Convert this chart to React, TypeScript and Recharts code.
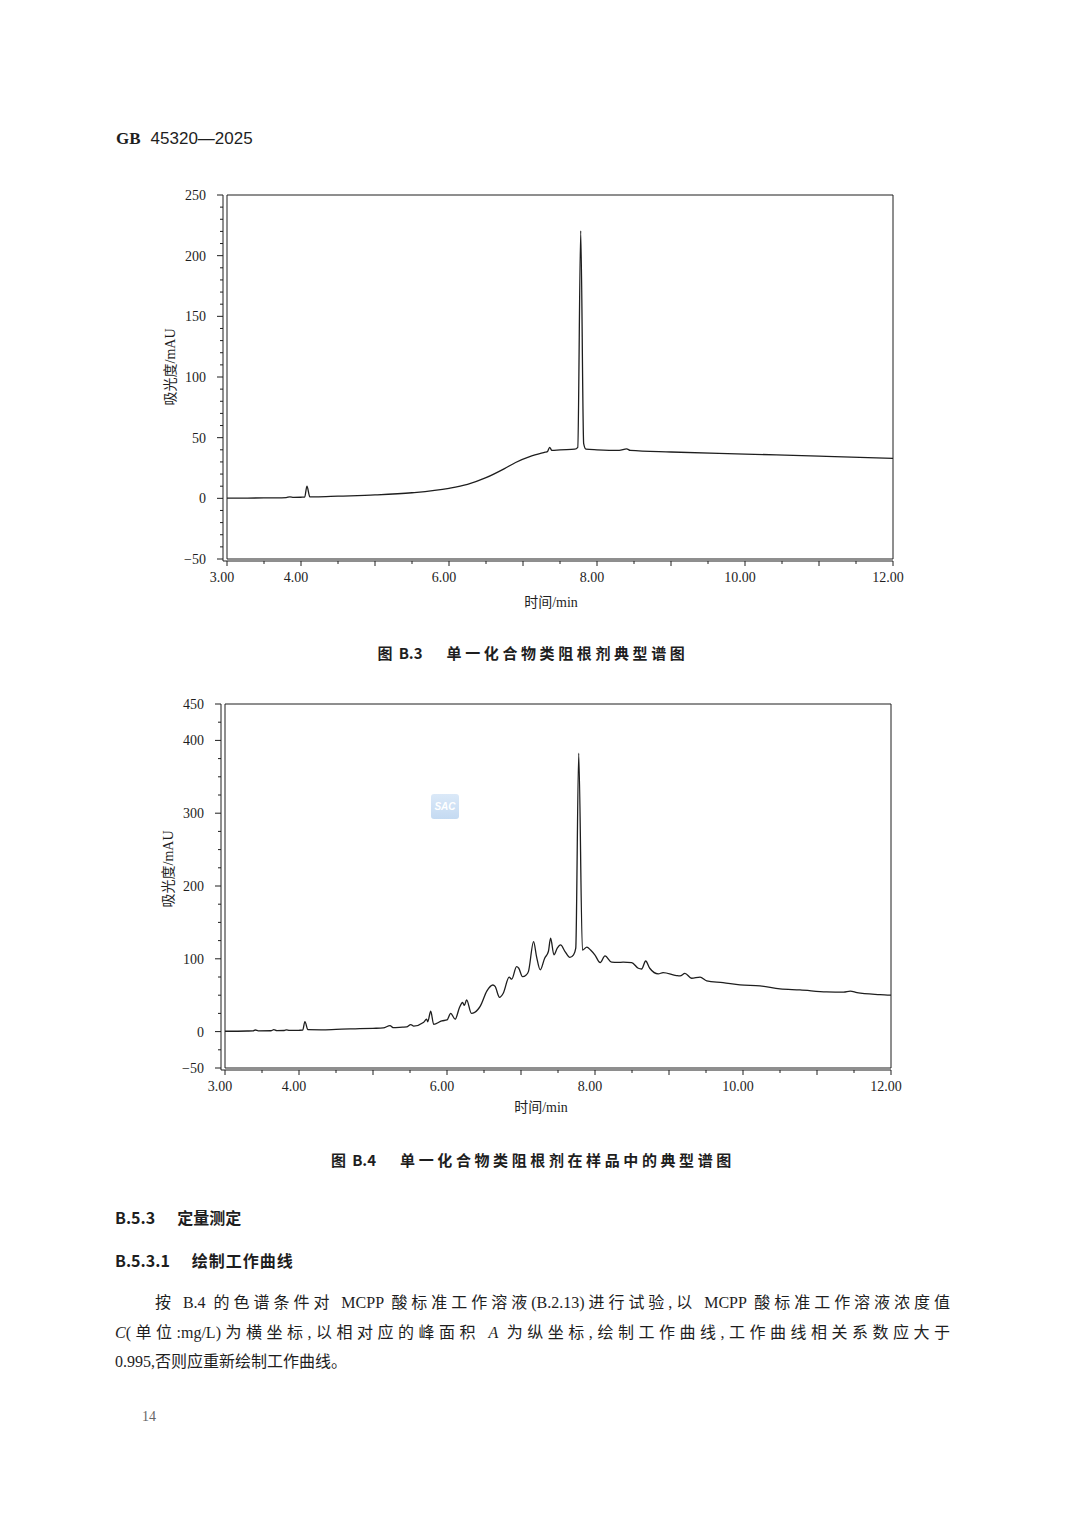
import React from 'react';
import { LineChart, Line, XAxis, YAxis, ReferenceArea } from 'recharts';

// 图 B.3 — 标准溶液谱图 (time in min, absorbance in mAU)
const b3Time = [
    3.0, 3.5, 3.8, 3.85, 3.9, 4.0, 4.05, 4.08, 4.12, 4.2, 4.5, 5.0, 5.5, 6.0, 6.25, 6.5, 6.75,
    6.9, 7.1, 7.3, 7.33, 7.36, 7.39, 7.5, 7.7, 7.74, 7.78, 7.82, 7.85, 8.0, 8.3, 8.4, 8.45,
    9.0, 10.0, 11.0, 12.0,
];
const b3Abs = [
    0.2, 0.3, 0.6, 1.2, 0.8, 0.9, 1.0, 10, 1.2, 1.2, 1.8, 2.8, 4.6, 8.2, 11.5, 17.0, 24.5,
    29.5, 34.5, 38.0, 38.5, 42.0, 39.5, 40.0, 40.5, 42.0, 220.5, 45.0, 40.5, 40.0, 39.5, 40.8, 39.5,
    38.2, 36.5, 34.8, 33.0,
];

// 图 B.4 — 样品谱图
const b4Time = [
    3.0, 3.3, 3.38, 3.41, 3.45, 3.62, 3.66, 3.7, 3.8, 3.83, 3.87, 4.0, 4.05, 4.08, 4.12, 4.3,
    4.5, 4.69, 4.82, 5.0, 5.14, 5.23, 5.27, 5.4, 5.455, 5.51, 5.55, 5.68, 5.725, 5.74, 5.78, 5.82,
    5.93, 6.0, 6.05, 6.11, 6.17, 6.21, 6.235, 6.265, 6.33, 6.42, 6.45, 6.54, 6.62, 6.65, 6.71, 6.76,
    6.84, 6.875, 6.94, 6.97, 7.02, 7.07, 7.1, 7.17, 7.21, 7.26, 7.32, 7.37, 7.4, 7.445, 7.49, 7.535,
    7.595, 7.66, 7.71, 7.74, 7.78, 7.83, 7.89, 7.94, 8.0, 8.07, 8.135, 8.225, 8.31, 8.38, 8.495, 8.585,
    8.63, 8.685, 8.74, 8.855, 8.92, 9.1, 9.15, 9.215, 9.305, 9.42, 9.51, 9.73, 9.96, 10.23, 10.5, 10.77,
    11.13, 11.36, 11.45, 11.54, 11.85, 12.0,
];
const b4Abs = [
    0.5, 0.8, 1.0, 2.2, 1.0, 1.2, 2.6, 1.3, 1.5, 2.3, 1.6, 1.8, 2.0, 13.7, 2.6, 2.4,
    3.0, 3.7, 4.0, 4.5, 5.0, 8.3, 5.5, 6.2, 6.5, 9.7, 7.5, 12.4, 17, 13.5, 28, 10,
    14.7, 16, 25, 17, 33.5, 40, 36, 43.5, 25, 30.7, 35, 56, 64, 62, 47, 52.7,
    74.7, 72, 89.3, 87, 75.5, 77.8, 82.4, 123.6, 103, 84.8, 100.8, 110, 128.3, 105.4, 114.6, 119,
    110, 102, 105.4, 114.6, 382.4, 112, 116, 112, 105, 94.8, 104, 95.3, 95, 95.3, 94.8, 87,
    86, 97, 87, 79.3, 81, 77, 76.5, 80, 73.3, 74.7, 69.6, 67.3, 64.1, 62.8, 58.7, 57.3,
    54.5, 54.1, 55.5, 53.5, 50.8, 50,
];

const xTicks = [3, 3.5, 4, 4.5, 5, 5.5, 6, 6.5, 7, 7.5, 8, 8.5, 9, 9.5, 10, 10.5, 11, 11.5, 12];
const xLabels = [3, 4, 6, 8, 10, 12];

const b3YTicks = [-50, -40, -30, -20, -10, 0, 10, 20, 30, 40, 50, 60, 70, 80, 90, 100, 110, 120, 130, 140, 150,
    160, 170, 180, 190, 200, 210, 220, 230, 240, 250];
const b3YLabels = [-50, 0, 50, 100, 150, 200, 250];

const b4YTicks = [-50, -25, 0, 25, 50, 75, 100, 125, 150, 175, 200, 225, 250, 275, 300, 325, 350, 375, 400, 425, 450];
const b4YLabels = [-50, 0, 100, 200, 300, 400, 450];

const b3Data = b3Time.map((t, i) => ({ t, v: b3Abs[i] }));
const b4Data = b4Time.map((t, i) => ({ t, v: b4Abs[i] }));

const INK = '#1e1e1e';
const NUM_FONT = '"Liberation Serif", "DejaVu Serif", serif';
const CJK_SERIF = '"Liberation Serif", "Noto Sans CJK SC", serif';
const CJK_BOLD = '"Noto Sans CJK SC", sans-serif';

const XTick = (props: any) => {
    const { x, y, payload } = props;
    const v = payload.value;
    const major = Number.isInteger(v);
    return (
        <g>
            <line x1={x} x2={x} y1={y} y2={y + (major ? 5 : 3)} stroke={INK} strokeWidth={1} />
            {xLabels.includes(v) && (
                <text x={x - 5} y={y + 21} textAnchor="middle" fontSize={14} fontFamily={NUM_FONT} fill={INK}>
                    {v.toFixed(2)}
                </text>
            )}
        </g>
    );
};

const makeYTick = (labels: number[]) => (props: any) => {
    const { x, y, payload } = props;
    const v = payload.value;
    const major = labels.includes(v);
    return (
        <g>
            <line x1={x - (major ? 6 : 3)} x2={x} y1={y} y2={y} stroke={INK} strokeWidth={1} />
            {major && (
                <text x={x - 17} y={y + 5} textAnchor="end" fontSize={14} fontFamily={NUM_FONT} fill={INK}>
                    {v < 0 ? '\u2212' + Math.abs(v) : v}
                </text>
            )}
        </g>
    );
};

const XTitle = ({ viewBox, dx, dy }: any) => {
    const { x, y, width } = viewBox;
    return (
        <text x={x + width / 2 + dx} y={y + dy} textAnchor="middle" fontSize={14} fontFamily={CJK_SERIF} fill={INK}>
            时间/min
        </text>
    );
};

const YTitle = ({ viewBox, cx, dy }: any) => {
    const { y, height } = viewBox;
    const cy = y + height / 2 + dy;
    return (
        <text
            x={cx}
            y={cy}
            transform={`rotate(-90, ${cx}, ${cy})`}
            textAnchor="middle"
            dominantBaseline="central"
            fontSize={14}
            fontFamily={CJK_SERIF}
            fill={INK}
        >
            吸光度/mAU
        </text>
    );
};

interface ChartProps {
    data: { t: number; v: number }[];
    yDomain: [number, number];
    yTicks: number[];
    yLabels: number[];
    margin: { top: number; right: number; bottom: number; left: number };
    xTitleDx: number;
    xTitleDy: number;
    yTitleDy: number;
}

const Chromatogram: React.FC<ChartProps> = ({ data, yDomain, yTicks, yLabels, margin, xTitleDx, xTitleDy, yTitleDy }) => (
    <LineChart width={820} height={440} data={data} margin={margin}>
        <XAxis
            dataKey="t"
            type="number"
            domain={[3, 12]}
            ticks={xTicks}
            interval={0}
            padding={{ left: 4, right: 0 }}
            height={45}
            tickSize={0}
            tickMargin={0}
            tickLine={false}
            axisLine={{ stroke: INK }}
            tick={XTick}
            label={<XTitle dx={xTitleDx} dy={xTitleDy} />}
        />
        <YAxis
            type="number"
            domain={yDomain}
            ticks={yTicks}
            interval={0}
            padding={{ top: 0, bottom: 2 }}
            width={60}
            tickSize={0}
            tickMargin={0}
            tickLine={false}
            axisLine={{ stroke: INK }}
            tick={makeYTick(yLabels)}
            label={<YTitle cx={margin.left + 7} dy={yTitleDy} />}
        />
        <ReferenceArea
            x1={3}
            x2={12}
            y1={yDomain[0]}
            y2={yDomain[1]}
            fill="none"
            stroke={INK}
            strokeWidth={1}
            ifOverflow="visible"
        />
        <Line
            type="monotone"
            dataKey="v"
            stroke={INK}
            strokeWidth={1.3}
            dot={false}
            isAnimationActive={false}
        />
    </LineChart>
);

const abs = (left: number, top: number, extra: React.CSSProperties = {}): React.CSSProperties => ({
    position: 'absolute',
    left,
    top,
    whiteSpace: 'nowrap',
    color: INK,
    ...extra,
});

const bodyLine: React.CSSProperties = {
    fontFamily: CJK_SERIF,
    fontSize: 16,
    lineHeight: '20px',
    textAlign: 'justify',
    textAlignLast: 'justify',
};

const caption: React.CSSProperties = {
    width: 1066,
    textAlign: 'center',
    fontFamily: CJK_BOLD,
    fontWeight: 700,
    fontSize: 15,
    lineHeight: '20px',
};

export default function App() {
    return (
        <div style={{ position: 'absolute', left: 0, top: 0, width: 1080, height: 1527, background: '#fff', overflow: 'hidden' }}>
            <div style={abs(116, 129, { fontSize: 17, lineHeight: '20px' })}>
                <span style={{ fontFamily: NUM_FONT, fontWeight: 700 }}>GB</span>
                <span style={{ fontFamily: '"Liberation Sans", sans-serif', marginLeft: 10 }}>45320—2025</span>
            </div>

            <div style={abs(100, 180)}>
                <Chromatogram
                    data={b3Data}
                    yDomain={[-50, 250]}
                    yTicks={b3YTicks}
                    yLabels={b3YLabels}
                    margin={{ top: 15, right: 27, bottom: 14, left: 63 }}
                    xTitleDx={-7}
                    xTitleDy={46}
                    yTitleDy={-11}
                />
            </div>

            <div style={abs(0, 643, caption)}>
                <span>图</span>
                <span style={{ marginLeft: 6 }}>B.3</span>
                <span style={{ marginLeft: 24, letterSpacing: 3.6 }}>单一化合物类阻根剂典型谱图</span>
            </div>

            <div style={abs(100, 690)}>
                <Chromatogram
                    data={b4Data}
                    yDomain={[-50, 450]}
                    yTicks={b4YTicks}
                    yLabels={b4YLabels}
                    margin={{ top: 14, right: 29, bottom: 15, left: 61 }}
                    xTitleDx={-15}
                    xTitleDy={42}
                    yTitleDy={-18}
                />
            </div>

            <div
                style={abs(431, 794, {
                    width: 28,
                    height: 25,
                    borderRadius: 3,
                    background: 'linear-gradient(180deg, #dbe9f8 0%, #c4daf2 100%)',
                    color: '#fff',
                    fontFamily: '"Liberation Sans", sans-serif',
                    fontStyle: 'italic',
                    fontWeight: 700,
                    fontSize: 10,
                    lineHeight: '25px',
                    textAlign: 'center',
                })}
            >
                SAC
            </div>

            <div style={abs(0, 1150, caption)}>
                <span>图</span>
                <span style={{ marginLeft: 6 }}>B.4</span>
                <span style={{ marginLeft: 24, letterSpacing: 3.6 }}>单一化合物类阻根剂在样品中的典型谱图</span>
            </div>

            <div style={abs(115, 1207, { fontFamily: CJK_BOLD, fontWeight: 700, fontSize: 16, lineHeight: '20px' })}>
                B.5.3<span style={{ marginLeft: 22 }}>定量测定</span>
            </div>
            <div style={abs(115, 1250, { fontFamily: CJK_BOLD, fontWeight: 700, fontSize: 16, lineHeight: '20px' })}>
                B.5.3.1<span style={{ marginLeft: 22, letterSpacing: 1 }}>绘制工作曲线</span>
            </div>

            <div style={abs(155, 1293, { ...bodyLine, width: 795 })}>
                按 B.4 的色谱条件对 MCPP 酸标准工作溶液(B.2.13)进行试验,以 MCPP 酸标准工作溶液浓度值
            </div>
            <div style={abs(115, 1323, { ...bodyLine, width: 835 })}>
                <i>C</i>(单位:mg/L)为横坐标,以相对应的峰面积 <i>A</i> 为纵坐标,绘制工作曲线,工作曲线相关系数应大于
            </div>
            <div style={abs(115, 1352, { ...bodyLine, textAlign: 'left', textAlignLast: 'auto' })}>
                0.995,否则应重新绘制工作曲线。
            </div>

            <div style={abs(142, 1408, { fontFamily: NUM_FONT, fontSize: 14, lineHeight: '18px', color: '#666' })}>14</div>
        </div>
    );
}
